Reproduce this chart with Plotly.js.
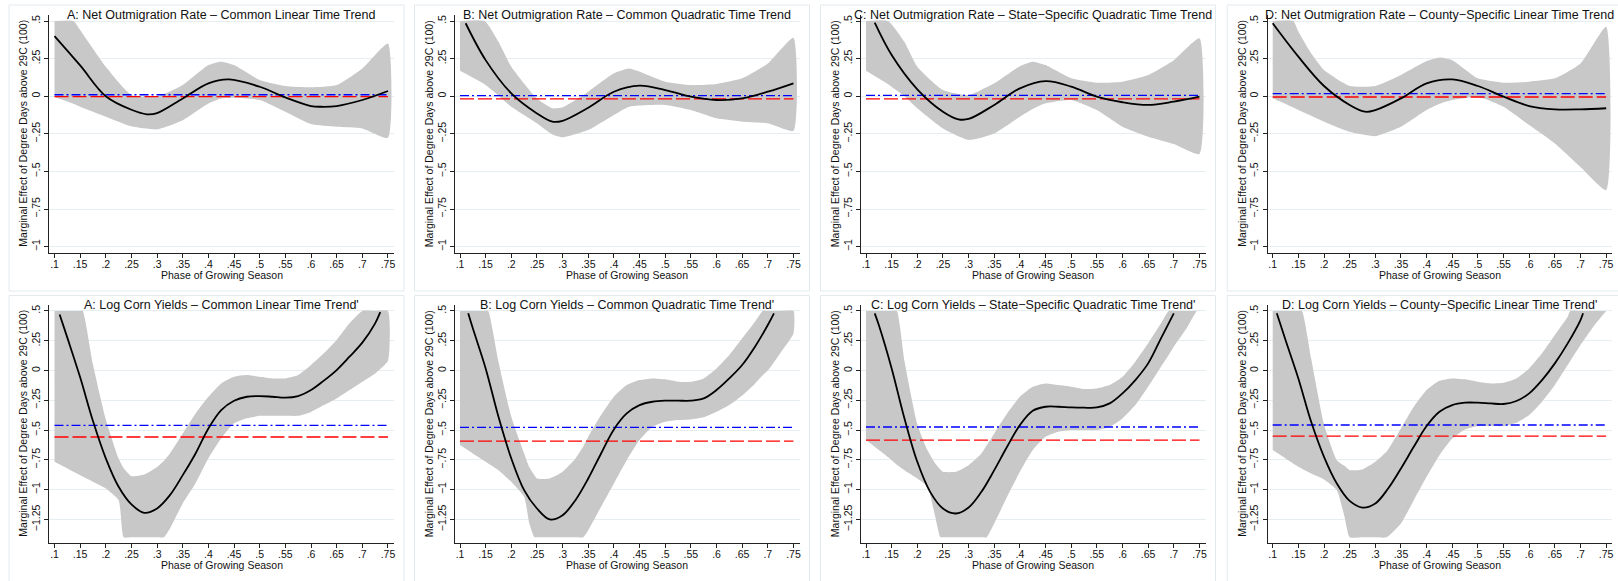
<!DOCTYPE html>
<html>
<head>
<meta charset="utf-8">
<script src="https://cdn.plot.ly/plotly-3.0.1.min.js"></script>
<style>html,body{margin:0;padding:0;background:#fff;}#chart{width:1618px;height:581px;}</style>
</head>
<body>
<div id="chart"></div>
<script>
// ---------- tick labels ----------
const phaseTicks = [0.1,0.15,0.2,0.25,0.3,0.35,0.4,0.45,0.5,0.55,0.6,0.65,0.7,0.75];
const phaseTickText = [".1",".15",".2",".25",".3",".35",".4",".45",".5",".55",".6",".65",".7",".75"];
const migTicks = [0.5,0.25,0,-0.25,-0.5,-0.75,-1];
const migTickText = [".5",".25","0","\u2212.25","\u2212.5","\u2212.75","\u22121"];
const cornTicks = [0.5,0.25,0,-0.25,-0.5,-0.75,-1,-1.25];
const cornTickText = [".5",".25","0","\u2212.25","\u2212.5","\u2212.75","\u22121","\u22121.25"];

const panelTitles = [
  "A: Net Outmigration Rate \u2013 Common Linear Time Trend",
  "B: Net Outmigration Rate \u2013 Common Quadratic Time Trend",
  "C: Net Outmigration Rate \u2013 State\u2212Specific Quadratic Time Trend",
  "D: Net Outmigration Rate \u2013 County\u2212Specific Linear Time Trend",
  "A: Log Corn Yields \u2013 Common Linear Time Trend'",
  "B: Log Corn Yields \u2013 Common Quadratic Time Trend'",
  "C: Log Corn Yields \u2013 State\u2212Specific Quadratic Time Trend'",
  "D: Log Corn Yields \u2013 County\u2212Specific Linear Time Trend'"
];
const xTitle = "Phase of Growing Season";
const yTitle = "Marginal Effect of Degree Days above 29C (100)";

// ---------- Net outmigration: A ----------
const migA_fitX = [0.1,0.15,0.2,0.25,0.28,0.3,0.35,0.4,0.44,0.5,0.55,0.6,0.62,0.65,0.7,0.75];
const migA_fit  = [0.40,0.205,0.0,-0.09,-0.12,-0.112,-0.015,0.086,0.112,0.063,-0.008,-0.065,-0.07,-0.065,-0.025,0.035];
const migA_bandX = [0.1,0.137,0.15,0.2,0.25,0.3,0.35,0.4,0.425,0.45,0.5,0.55,0.6,0.65,0.7,0.75];
const migA_hi = [0.5,0.5,0.44,0.196,0.008,-0.003,0.074,0.207,0.23,0.207,0.108,0.068,0.059,0.074,0.185,0.351];
const migA_lo = [-0.005,-0.05,-0.07,-0.136,-0.2,-0.22,-0.159,-0.048,-0.015,-0.01,-0.025,-0.103,-0.185,-0.203,-0.214,-0.276];
const migA_blue = 0.01, migA_red = -0.003;

// ---------- Net outmigration: B ----------
const migB_fitX = [0.111,0.15,0.2,0.25,0.28,0.3,0.35,0.4,0.45,0.5,0.55,0.6,0.65,0.7,0.75];
const migB_fit  = [0.485,0.24,0.019,-0.114,-0.169,-0.163,-0.076,0.03,0.07,0.041,-0.003,-0.025,-0.014,0.03,0.086];
const migB_bandX = [0.1,0.148,0.175,0.2,0.25,0.28,0.3,0.35,0.4,0.43,0.5,0.55,0.6,0.65,0.7,0.75];
const migB_hi = [0.5,0.5,0.362,0.196,-0.015,-0.08,-0.074,0.03,0.152,0.185,0.097,0.074,0.081,0.119,0.218,0.389];
const migB_lo = [0.17,0.08,0.005,-0.07,-0.18,-0.255,-0.273,-0.225,-0.125,-0.07,-0.058,-0.092,-0.147,-0.169,-0.18,-0.229];
const migB_blue = 0.004, migB_red = -0.018;

// ---------- Net outmigration: C ----------
const migC_fitX = [0.117,0.15,0.2,0.25,0.28,0.3,0.35,0.4,0.45,0.5,0.55,0.6,0.65,0.7,0.75];
const migC_fit  = [0.489,0.274,0.046,-0.103,-0.153,-0.151,-0.058,0.052,0.1,0.064,-0.003,-0.04,-0.058,-0.036,-0.003];
const migC_bandX = [0.1,0.143,0.175,0.2,0.25,0.3,0.35,0.4,0.425,0.45,0.5,0.55,0.6,0.65,0.7,0.75];
const migC_hi = [0.5,0.5,0.36,0.196,0.041,0.008,0.086,0.2,0.23,0.207,0.119,0.09,0.097,0.141,0.24,0.385];
const migC_lo = [0.17,0.08,0.0,-0.08,-0.214,-0.29,-0.247,-0.136,-0.085,-0.047,-0.025,-0.092,-0.203,-0.269,-0.318,-0.384];
const migC_blue = 0.006, migC_red = -0.018;

// ---------- Net outmigration: D ----------
const migD_fitX = [0.1,0.15,0.2,0.25,0.28,0.3,0.35,0.4,0.45,0.5,0.55,0.6,0.65,0.7,0.75];
const migD_fit  = [0.485,0.263,0.068,-0.058,-0.103,-0.092,-0.014,0.086,0.112,0.068,-0.003,-0.065,-0.087,-0.087,-0.08];
const migD_bandX = [0.1,0.14,0.15,0.175,0.2,0.25,0.3,0.35,0.4,0.425,0.45,0.5,0.55,0.6,0.65,0.7,0.75];
const migD_hi = [0.5,0.5,0.43,0.285,0.174,0.068,0.068,0.141,0.234,0.258,0.24,0.119,0.09,0.097,0.119,0.218,0.462];
const migD_lo = [-0.014,-0.075,-0.092,-0.13,-0.169,-0.236,-0.265,-0.203,-0.092,-0.05,-0.025,-0.003,-0.07,-0.192,-0.314,-0.47,-0.624];
const migD_blue = 0.017, migD_red = -0.005;

// ---------- Log corn yields: A ----------
const cornA_fitX = [0.11,0.125,0.15,0.175,0.2,0.225,0.25,0.275,0.3,0.325,0.35,0.375,0.4,0.425,0.45,0.475,0.5,0.525,0.55,0.575,0.6,0.625,0.65,0.675,0.7,0.725,0.735];
const cornA_fit  = [0.47,0.276,-0.057,-0.424,-0.737,-0.976,-1.124,-1.194,-1.157,-1.046,-0.878,-0.696,-0.486,-0.332,-0.253,-0.22,-0.214,-0.22,-0.228,-0.214,-0.164,-0.085,0.004,0.116,0.234,0.396,0.49];
const cornA_bandX = [0.1,0.125,0.15,0.155,0.175,0.2,0.225,0.235,0.25,0.275,0.3,0.313,0.325,0.35,0.375,0.4,0.425,0.45,0.475,0.5,0.525,0.55,0.575,0.6,0.625,0.65,0.675,0.7,0.725,0.75];
const cornA_hi = [0.5,0.5,0.5,0.5,0.05,-0.41,-0.738,-0.82,-0.887,-0.873,-0.81,-0.76,-0.697,-0.529,-0.36,-0.22,-0.108,-0.052,-0.038,-0.052,-0.066,-0.066,-0.038,0.046,0.144,0.256,0.396,0.5,0.5,0.5];
const cornA_lo = [-0.766,-0.822,-0.878,-0.89,-0.934,-0.99,-1.088,-1.4,-1.4,-1.4,-1.4,-1.4,-1.325,-1.115,-0.947,-0.737,-0.569,-0.443,-0.401,-0.38,-0.38,-0.38,-0.38,-0.347,-0.29,-0.234,-0.164,-0.094,-0.024,0.082];
const cornA_blue = -0.46, cornA_red = -0.558;

// ---------- Log corn yields: B ----------
const cornB_fitX = [0.116,0.125,0.15,0.175,0.2,0.225,0.25,0.275,0.3,0.325,0.35,0.375,0.4,0.425,0.45,0.475,0.5,0.525,0.55,0.575,0.6,0.625,0.65,0.675,0.7,0.712];
const cornB_fit  = [0.48,0.354,0.018,-0.388,-0.738,-1.004,-1.158,-1.25,-1.214,-1.088,-0.906,-0.696,-0.494,-0.36,-0.29,-0.262,-0.253,-0.253,-0.253,-0.234,-0.164,-0.066,0.046,0.2,0.382,0.48];
const cornB_bandX = [0.1,0.125,0.15,0.155,0.175,0.2,0.225,0.235,0.245,0.25,0.275,0.3,0.325,0.34,0.35,0.375,0.4,0.425,0.45,0.475,0.5,0.525,0.55,0.575,0.6,0.625,0.65,0.675,0.69,0.7,0.725,0.75];
const cornB_hi = [0.5,0.5,0.5,0.5,0.074,-0.388,-0.696,-0.81,-0.878,-0.906,-0.906,-0.85,-0.738,-0.64,-0.556,-0.374,-0.22,-0.122,-0.08,-0.066,-0.074,-0.094,-0.094,-0.066,0.018,0.13,0.27,0.41,0.5,0.5,0.5,0.5];
const cornB_lo = [-0.626,-0.696,-0.766,-0.78,-0.836,-0.934,-1.06,-1.28,-1.4,-1.4,-1.4,-1.4,-1.4,-1.4,-1.34,-1.144,-0.948,-0.752,-0.584,-0.472,-0.43,-0.416,-0.41,-0.393,-0.346,-0.29,-0.21,-0.11,-0.04,0.0,0.15,0.31];
const cornB_blue = -0.477, cornB_red = -0.592;

// ---------- Log corn yields: C ----------
const cornC_fitX = [0.117,0.125,0.15,0.175,0.2,0.225,0.25,0.275,0.3,0.325,0.35,0.375,0.4,0.425,0.45,0.475,0.5,0.525,0.55,0.575,0.6,0.625,0.65,0.675,0.7];
const cornC_fit  = [0.48,0.382,0.018,-0.402,-0.766,-1.018,-1.158,-1.2,-1.15,-1.018,-0.836,-0.64,-0.458,-0.338,-0.304,-0.304,-0.31,-0.312,-0.31,-0.276,-0.192,-0.08,0.06,0.27,0.48];
const cornC_bandX = [0.1,0.125,0.15,0.16,0.175,0.2,0.22,0.235,0.245,0.25,0.275,0.3,0.325,0.335,0.35,0.375,0.4,0.425,0.45,0.475,0.5,0.525,0.55,0.575,0.6,0.625,0.65,0.675,0.69,0.7,0.725,0.745,0.75];
const cornC_hi = [0.5,0.5,0.5,0.5,0.08,-0.45,-0.67,-0.78,-0.83,-0.85,-0.85,-0.794,-0.696,-0.63,-0.528,-0.36,-0.22,-0.136,-0.108,-0.122,-0.136,-0.155,-0.15,-0.122,-0.052,0.074,0.228,0.396,0.5,0.5,0.5,0.5,0.5];
const cornC_lo = [-0.584,-0.668,-0.752,-0.79,-0.836,-0.906,-0.976,-1.228,-1.4,-1.4,-1.4,-1.4,-1.4,-1.4,-1.284,-1.06,-0.85,-0.668,-0.556,-0.514,-0.5,-0.5,-0.5,-0.472,-0.402,-0.29,-0.136,0.032,0.13,0.2,0.354,0.5,0.5];
const cornC_blue = -0.474, cornC_red = -0.584;

// ---------- Log corn yields: D ----------
const cornD_fitX = [0.108,0.125,0.15,0.175,0.2,0.225,0.25,0.275,0.3,0.325,0.35,0.375,0.4,0.425,0.45,0.475,0.5,0.525,0.55,0.575,0.6,0.625,0.65,0.675,0.7,0.705];
const cornD_fit  = [0.48,0.256,-0.066,-0.43,-0.724,-0.948,-1.094,-1.15,-1.116,-0.99,-0.822,-0.64,-0.466,-0.346,-0.29,-0.27,-0.27,-0.276,-0.281,-0.256,-0.192,-0.08,0.06,0.228,0.424,0.48];
const cornD_bandX = [0.1,0.125,0.15,0.157,0.175,0.2,0.225,0.24,0.25,0.275,0.3,0.322,0.35,0.375,0.4,0.425,0.45,0.475,0.5,0.525,0.55,0.575,0.6,0.625,0.65,0.675,0.68,0.7,0.725,0.75];
const cornD_hi = [0.5,0.5,0.5,0.5,0.1,-0.45,-0.752,-0.8,-0.836,-0.83,-0.766,-0.68,-0.486,-0.304,-0.164,-0.086,-0.066,-0.074,-0.094,-0.108,-0.102,-0.066,0.018,0.144,0.298,0.452,0.5,0.5,0.5,0.5];
const cornD_lo = [-0.668,-0.738,-0.808,-0.825,-0.864,-0.914,-1.004,-1.228,-1.4,-1.4,-1.4,-1.4,-1.284,-1.088,-0.892,-0.71,-0.57,-0.494,-0.466,-0.466,-0.466,-0.438,-0.374,-0.262,-0.122,0.046,0.08,0.214,0.368,0.5];
const cornD_blue = -0.457, cornD_red = -0.55;

// ---------- assemble ----------
const panels = [
  {fx: migA_fitX, fy: migA_fit, bx: migA_bandX, hi: migA_hi, lo: migA_lo, blue: migA_blue, red: migA_red},
  {fx: migB_fitX, fy: migB_fit, bx: migB_bandX, hi: migB_hi, lo: migB_lo, blue: migB_blue, red: migB_red},
  {fx: migC_fitX, fy: migC_fit, bx: migC_bandX, hi: migC_hi, lo: migC_lo, blue: migC_blue, red: migC_red},
  {fx: migD_fitX, fy: migD_fit, bx: migD_bandX, hi: migD_hi, lo: migD_lo, blue: migD_blue, red: migD_red},
  {fx: cornA_fitX, fy: cornA_fit, bx: cornA_bandX, hi: cornA_hi, lo: cornA_lo, blue: cornA_blue, red: cornA_red},
  {fx: cornB_fitX, fy: cornB_fit, bx: cornB_bandX, hi: cornB_hi, lo: cornB_lo, blue: cornB_blue, red: cornB_red},
  {fx: cornC_fitX, fy: cornC_fit, bx: cornC_bandX, hi: cornC_hi, lo: cornC_lo, blue: cornC_blue, red: cornC_red},
  {fx: cornD_fitX, fy: cornD_fit, bx: cornD_bandX, hi: cornD_hi, lo: cornD_lo, blue: cornD_blue, red: cornD_red}
];

const W = 1618, H = 581;
const colX0 = [54.5, 460, 866, 1272.7];   // pixel of x=.1 in each column
const pxPerUnit = 513;
const xRange = [0.09, 0.762];
const rows = [
  {top: 15, bot: 253.3, range: [-1.044, 0.54], ticks: migTicks, text: migTickText},
  {top: 305, bot: 543.3, range: [-1.45, 0.55], ticks: cornTicks, text: cornTickText}
];
const FONT = "Liberation Sans, Arial, sans-serif";
const AXC = "#222";

const traces = [];
const layout = {
  width: W, height: H, margin: {l: 0, r: 0, t: 0, b: 0},
  paper_bgcolor: "#fff", plot_bgcolor: "#fff", showlegend: false,
  font: {family: FONT, color: "#111", size: 10.5},
  annotations: [], shapes: []
};

panels.forEach((p, i) => {
  const r = Math.floor(i / 4), c = i % 4, n = i + 1;
  const row = rows[r];
  const xs = n === 1 ? "x" : "x" + n, ys = n === 1 ? "y" : "y" + n;
  const left = colX0[c] + (xRange[0] - 0.1) * pxPerUnit;
  const right = colX0[c] + (xRange[1] - 0.1) * pxPerUnit;
  layout[n === 1 ? "xaxis" : "xaxis" + n] = {
    domain: [left / W, right / W], anchor: ys, range: xRange,
    tickmode: "array", tickvals: phaseTicks, ticktext: phaseTickText,
    showline: true, linecolor: AXC, linewidth: 1, ticks: "outside", ticklen: 4, tickcolor: AXC,
    ticklabelstandoff: -3,
    showgrid: false, zeroline: false, tickfont: {size: 10.5, family: FONT, color: "#111"}, fixedrange: true
  };
  layout[n === 1 ? "yaxis" : "yaxis" + n] = {
    domain: [1 - row.bot / H, 1 - row.top / H], anchor: xs, range: row.range,
    tickmode: "array", tickvals: row.ticks, ticktext: row.text, tickangle: -90,
    showline: true, linecolor: AXC, linewidth: 1, ticks: "outside", ticklen: 4, tickcolor: AXC,
    ticklabelstandoff: 0,
    showgrid: true, gridcolor: "#e6eef1", gridwidth: 1, zeroline: false,
    tickfont: {size: 10.5, family: FONT, color: "#111"}, fixedrange: true
  };
  // band
  traces.push({
    x: p.bx.concat(p.bx.slice().reverse()),
    y: p.hi.concat(p.lo.slice().reverse()),
    xaxis: xs, yaxis: ys, type: "scatter", mode: "lines", fill: "toself",
    fillcolor: "rgb(200,200,200)", line: {width: 0, color: "rgba(0,0,0,0)", shape: "spline", smoothing: 0.5},
    hoverinfo: "skip"
  });
  // red long dash
  traces.push({x: [0.1, 0.75], y: [p.red, p.red], xaxis: xs, yaxis: ys, type: "scatter", mode: "lines",
    line: {color: "#ff0000", width: 1.3, dash: "14px,4px"}});
  // blue dash-dot
  traces.push({x: [0.1, 0.75], y: [p.blue, p.blue], xaxis: xs, yaxis: ys, type: "scatter", mode: "lines",
    line: {color: "#0000ff", width: 1.3, dash: "9px,3px,2px,3px"}});
  // fitted curve
  traces.push({x: p.fx, y: p.fy, xaxis: xs, yaxis: ys, type: "scatter", mode: "lines",
    line: {color: "#000", width: 1.8, shape: "spline", smoothing: 1}});

  // zero reference line in yield panels
  if (r === 1) {
    layout.shapes.push({type: "line", xref: xs, yref: ys, x0: xRange[0], x1: xRange[1], y0: 0, y1: 0,
      line: {color: "#b0b0b0", width: 1, dash: "dot"}, layer: "below"});
  }
  // panel frame
  const boxTop = 5 + r * 290.5;
  layout.shapes.push({type: "rect", xref: "paper", yref: "paper",
    x0: (colX0[c] - 45.5) / W, x1: (colX0[c] + 349.5) / W,
    y0: 1 - (boxTop + 286) / H, y1: 1 - boxTop / H,
    line: {color: "#e3eaee", width: 1}, layer: "below"});
  const cx = (left + right) / 2;
  // panel title
  layout.annotations.push({xref: "paper", yref: "paper", x: cx / W, y: 1 - row.top / H,
    text: panelTitles[i], showarrow: false, xanchor: "center", yanchor: "middle",
    font: {size: 12.5, family: FONT, color: "#111"}});
  // x title
  layout.annotations.push({xref: "paper", yref: "paper", x: cx / W, y: 1 - (row.bot + 21.5) / H,
    text: xTitle, showarrow: false, xanchor: "center", yanchor: "middle",
    font: {size: 10.5, family: FONT, color: "#111"}});
  // y title
  layout.annotations.push({xref: "paper", yref: "paper", x: (colX0[c] - 31) / W, y: 1 - ((row.top + row.bot) / 2 - 1) / H,
    text: yTitle, showarrow: false, textangle: -90, xanchor: "center", yanchor: "middle",
    font: {size: 10.5, family: FONT, color: "#111"}});
});

Plotly.newPlot("chart", traces, layout, {displayModeBar: false, staticPlot: true});
</script>
</body>
</html>
